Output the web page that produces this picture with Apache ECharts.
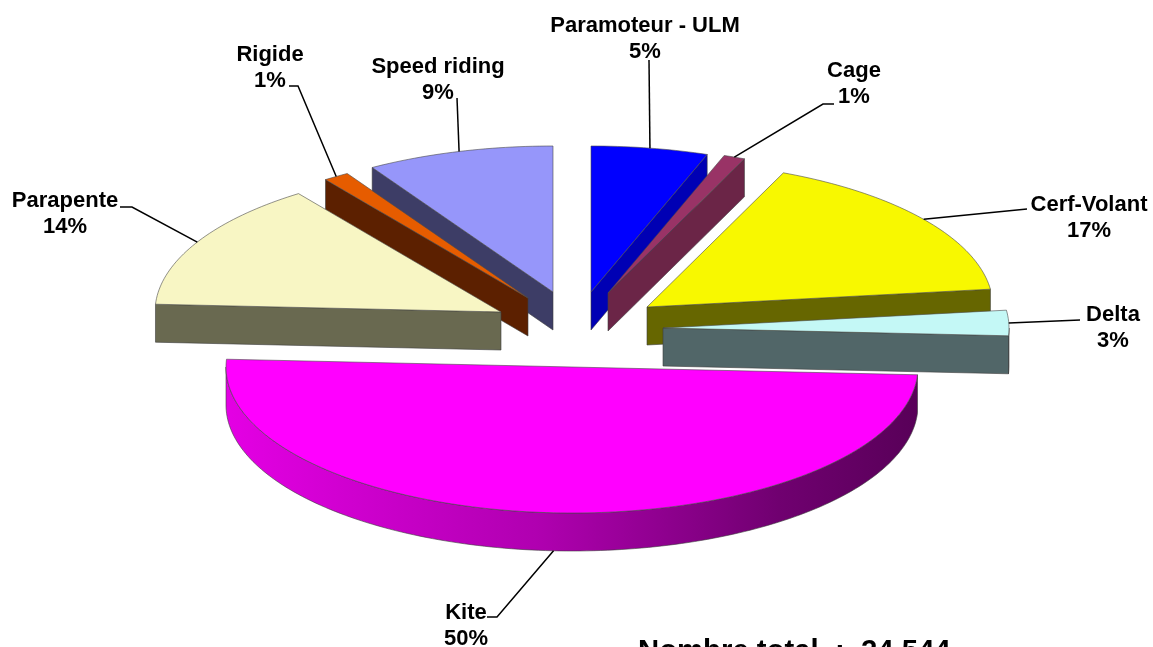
<!DOCTYPE html>
<html>
<head>
<meta charset="utf-8">
<title>Nombre total</title>
<style>
    html, body { margin: 0; padding: 0; background: #fff; }
    #chart { width: 1153px; height: 647px; }
</style>
<script src="https://cdn.jsdelivr.net/npm/echarts@6/dist/echarts.min.js"></script>
</head>
<body>
<div id="chart"></div>
<script>
// shares, clockwise from 12 o'clock
const categories = ["Paramoteur - ULM", "Cage", "Cerf-Volant", "Delta", "Kite", "Parapente", "Rigide", "Speed riding"];
const shares = [5.45, 1.0, 16.6, 2.8, 50, 14.2, 1.2, 8.75];
const totalLabel = "Nombre total  :  24 544";

// layout, in axis units (one unit is one pixel here)
const apexX = [591, 608, 647, 663, 572, 501, 528, 553];
const apexY = [292, 293, 307, 328, 367, 312, 298, 292];
const labelX = [645, 854, 1089, 1113, 466, 65, 270, 438];
const labelY = [37, 82, 216, 326, 624, 212, 66, 78];
const elbows = [
    [[649, 60]],
    [[823, 104], [834, 104]],
    [[1027, 209]],
    [[1080, 320]],
    [[497, 617], [487, 617]],
    [[132, 207], [120, 207]],
    [[298, 86], [289, 86]],
    [[457, 98]],
];
const topColors = ["#0000ff", "#993366", "#f8f800", "#c4f8f6", "#ff00ff", "#f8f6c4", "#e65c00", "#9696fa"];
const wallColors = ["#0000b4", "#6b2547", "#666600", "#516668", "#600060", "#696950", "#5c2000", "#3d3d66"];
const drawOrder = [7, 0, 1, 6, 5, 2, 3, 4];

const RX = 346;
const RY = 146;
const DEPTH = 38;
const FONT = 'bold 22px "Liberation Sans", Arial, sans-serif';

const sum = shares.reduce((a, b) => a + b, 0);
const startAngles = [];
shares.reduce((acc, v, i) => {
    startAngles[i] = acc;
    return acc + (v / sum) * 2 * Math.PI;
}, 0);

function arcPoint(i, angle) {
    return [apexX[i] + RX * Math.sin(angle), apexY[i] - RY * Math.cos(angle)];
}

function arcPoints(i, from, to) {
    const pts = [];
    const steps = Math.max(2, Math.ceil((to - from) / 0.02));
    for (let s = 0; s <= steps; s++) {
        pts.push(arcPoint(i, from + ((to - from) * s) / steps));
    }
    return pts;
}

function renderSlice(params, api) {
    const i = api.value(0);
    const a1 = startAngles[i];
    const a2 = a1 + (shares[i] / sum) * 2 * Math.PI;
    const toPx = (p) => api.coord(p);
    const drop = (p) => [p[0], p[1] + DEPTH];
    const apex = [apexX[i], apexY[i]];
    const wall = (pts, fill) => ({
        type: "polygon",
        shape: { points: pts.map(toPx) },
        style: { fill: fill, stroke: "#3c3c3c", lineWidth: 0.6 },
    });
    const children = [];

    // radial walls, only the ones facing the viewer
    if (Math.sin(a1) < 0) {
        const p = arcPoint(i, a1);
        children.push(wall([apex, p, drop(p), drop(apex)], wallColors[i]));
    }
    if (Math.sin(a2) > 0) {
        const p = arcPoint(i, a2);
        children.push(wall([apex, p, drop(p), drop(apex)], wallColors[i]));
    }

    // outer rim, front half of the ellipse only
    const rimFrom = Math.max(a1, Math.PI / 2);
    const rimTo = Math.min(a2, (3 * Math.PI) / 2);
    if (rimTo > rimFrom) {
        const rim = arcPoints(i, rimFrom, rimTo);
        const fill = i === 4
            ? {
                  type: "linear", x: 0, y: 0, x2: 1, y2: 0,
                  colorStops: [
                      { offset: 0, color: "#e400e4" },
                      { offset: 0.45, color: "#b000b0" },
                      { offset: 0.8, color: "#700070" },
                      { offset: 1, color: "#580058" },
                  ],
              }
            : wallColors[i];
        children.push(wall(rim.concat(rim.map(drop).reverse()), fill));
    }

    // top face
    children.push({
        type: "polygon",
        shape: { points: [apex].concat(arcPoints(i, a1, a2)).map(toPx) },
        style: { fill: topColors[i], stroke: "#4a4a4a", lineWidth: 0.6 },
    });

    // leader line starts on the middle of the slice's arc
    let anchor = arcPoint(i, (a1 + a2) / 2);
    if (Math.cos((a1 + a2) / 2) < -0.5) {
        anchor = drop(anchor);
    }
    children.push({
        type: "polyline",
        shape: { points: [anchor].concat(elbows[i]).map(toPx) },
        style: { stroke: "#000", lineWidth: 1.5, fill: null },
    });

    const labelPos = toPx([labelX[i], labelY[i]]);
    children.push({
        type: "text",
        style: {
            text: categories[i] + "\n" + Math.round(shares[i]) + "%",
            x: labelPos[0],
            y: labelPos[1] + 2,
            font: FONT,
            lineHeight: 26,
            fill: "#000",
            align: "center",
            verticalAlign: "middle",
        },
    });

    return { type: "group", children: children };
}

const chart = echarts.init(document.getElementById("chart"), null, { renderer: "canvas" });
chart.setOption({
    animation: false,
    backgroundColor: "#fff",
    title: {
        text: totalLabel,
        left: 638,
        top: 637,
        padding: 0,
        textStyle: {
            fontFamily: '"Liberation Sans", Arial, sans-serif',
            fontWeight: "bold",
            fontSize: 29.3,
            color: "#000",
        },
    },
    grid: { left: 0, right: 0, top: 0, bottom: 0 },
    xAxis: { type: "value", min: 0, max: 1153, show: false },
    yAxis: { type: "value", min: 0, max: 647, inverse: true, show: false },
    series: [
        {
            type: "custom",
            coordinateSystem: "cartesian2d",
            clip: false,
            silent: true,
            data: drawOrder.map((i) => [i]),
            renderItem: renderSlice,
        },
    ],
});
</script>
</body>
</html>
